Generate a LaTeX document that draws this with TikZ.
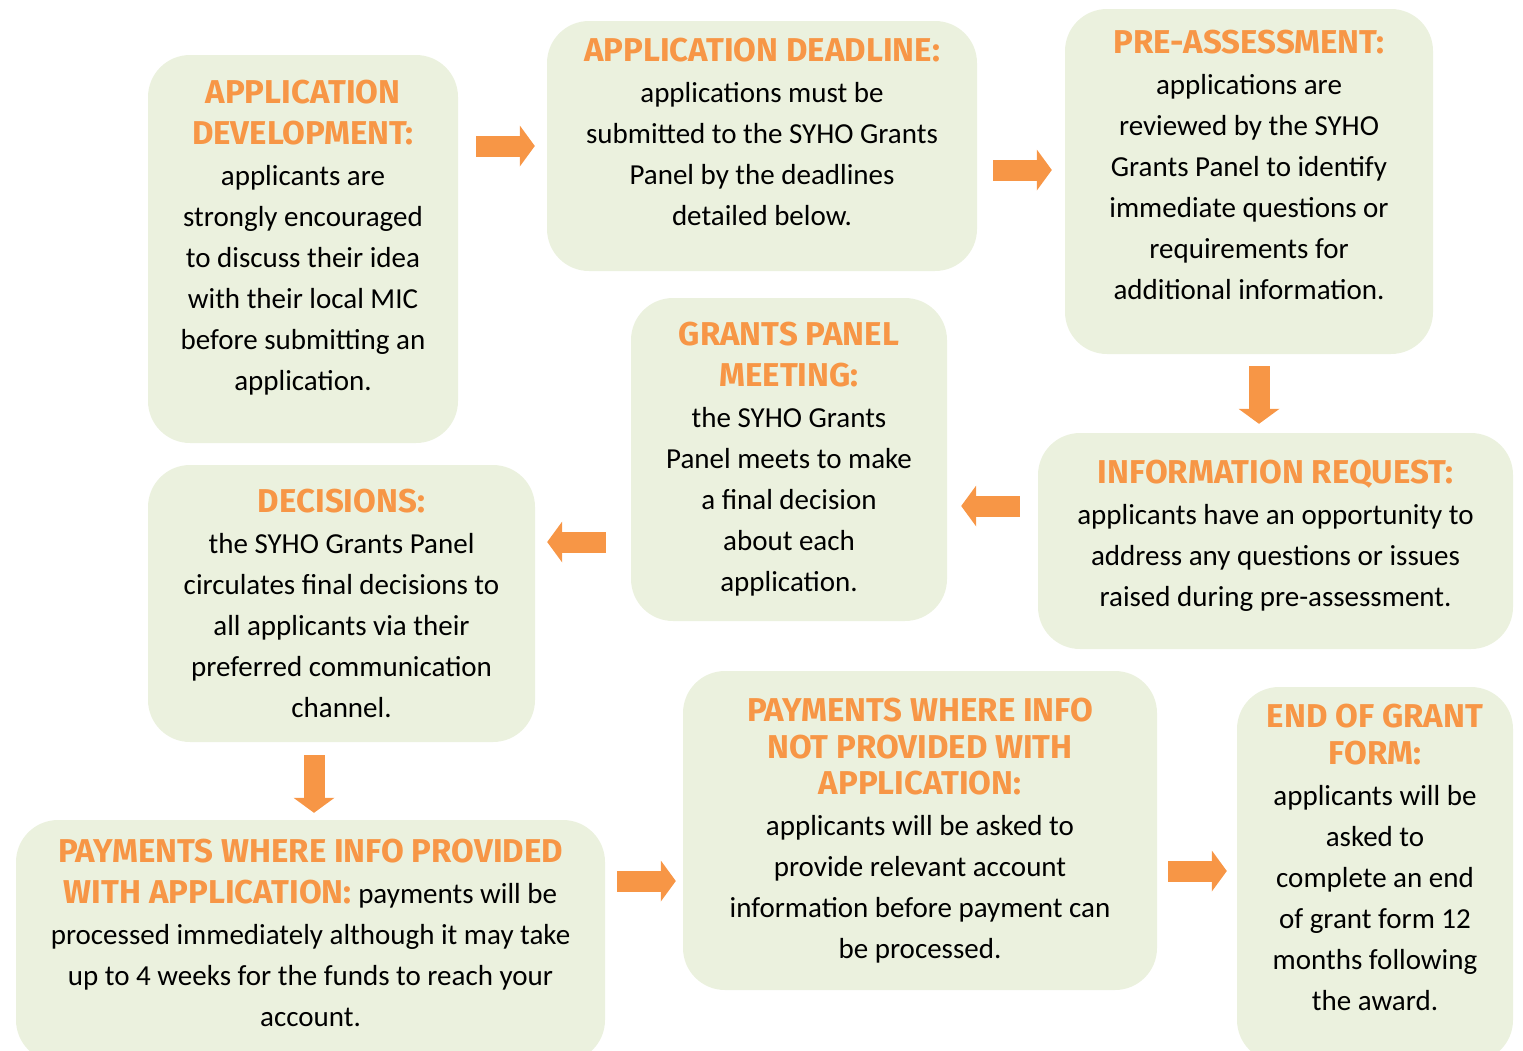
\documentclass[tikz,border=0pt]{standalone}
\usepackage{fontspec}
\setmainfont{Carlito}
\newfontfamily\headfont{Fira Sans}
\usetikzlibrary{arrows.meta,positioning}
\definecolor{stagefill}{HTML}{EBF1DE}
\definecolor{stageorange}{HTML}{F79646}
\newcommand{\stagehead}[1]{{\headfont\bfseries\fontsize{33}{41}\selectfont\color{stageorange}#1}}
\newcommand{\lift}[1]{\rule[-#1]{0pt}{#1}}

\begin{document}
\begin{tikzpicture}[x=1pt,y=-1pt,on grid,
    stage/.style={fill=stagefill,rounded corners=42pt,align=center,inner sep=0pt,
      font=\fontsize{29}{41}\selectfont},
    flow/.style={draw=stageorange,line width=21pt,
      -{Triangle[length=15pt,width=41pt,line width=0pt]}}]

      \path[use as bounding box] (0,0) rectangle (1523,1050);

      \node[stage,minimum width=310pt,minimum height=388pt] (app_dev) at (303,249)
        {\stagehead{APPLICATION}\\\stagehead{DEVELOPMENT:}\\applicants are\\strongly encouraged\\to discuss their idea\\with their local MIC\\before submitting an\\application.\lift{27pt}};
      \node[stage,minimum width=430pt,minimum height=250pt] (deadline) [above right=103pt and 459pt of app_dev]
        {\stagehead{APPLICATION DEADLINE:}\\applications must be\\submitted to the SYHO Grants\\Panel by the deadlines\\detailed below.\lift{28pt}};
      \node[stage,minimum width=368pt,minimum height=345pt] (pre_assess) [below right=35.5pt and 487pt of deadline]
        {\stagehead{PRE-ASSESSMENT:}\\applications are\\reviewed by the SYHO\\Grants Panel to identify\\immediate questions or\\requirements for\\additional information.\lift{33pt}};
      \node[stage,minimum width=475pt,minimum height=216pt] (info_req) [below right=359.5pt and 26.5pt of pre_assess]
        {\stagehead{INFORMATION REQUEST:}\\applicants have an opportunity to\\address any questions or issues\\raised during pre-assessment.\lift{16pt}};
      \node[stage,minimum width=316pt,minimum height=323pt] (panel_meet) [above left=81.5pt and 486.5pt of info_req]
        {\stagehead{GRANTS PANEL}\\\stagehead{MEETING:}\\the SYHO Grants\\Panel meets to make\\a final decision\\about each\\application.};
      \node[stage,minimum width=387pt,minimum height=277pt] (decisions) [below left=144pt and 447.5pt of panel_meet]
        {\stagehead{DECISIONS:}\\the SYHO Grants Panel\\circulates final decisions to\\all applicants via their\\preferred communication\\channel.};
      \node[stage,minimum width=589pt,minimum height=242pt] (pay_with) [below left=337.5pt and 31pt of decisions]
        {\stagehead{PAYMENTS WHERE INFO PROVIDED}\\\stagehead{WITH APPLICATION:} payments will be\\processed immediately although it may take\\up to 4 weeks for the funds to reach your\\account.\lift{16pt}};
      \node[stage,minimum width=474pt,minimum height=319pt] (pay_without) [above right=110.5pt and 609.5pt of pay_with]
        {\stagehead{PAYMENTS WHERE INFO}\\[-4pt]\stagehead{NOT PROVIDED WITH}\\[-5pt]\stagehead{APPLICATION:}\\applicants will be asked to\\provide relevant account\\information before payment can\\be processed.};
      \node[stage,minimum width=276pt,minimum height=375pt] (end_form) [below right=44pt and 455pt of pay_without]
        {\stagehead{END OF GRANT}\\[-4pt]\stagehead{FORM:}\\applicants will be\\asked to\\complete an end\\of grant form 12\\months following\\the award.\lift{34pt}};

      % block arrows between the stages
      \draw[flow,shorten <=18pt,shorten >=12pt] (app_dev.east |- deadline.west) -- (deadline.west);
      \draw[flow,shorten <=16pt,shorten >=13pt] ([yshift=-24pt]deadline.east) -- ([yshift=-24pt]deadline.east -| pre_assess.west);
      \draw[flow,shorten <=12pt,shorten >=9pt] ([xshift=10pt]pre_assess.south) -- ([xshift=10pt]pre_assess.south |- info_req.north);
      \draw[flow,shorten <=18pt,shorten >=14pt] ([yshift=35pt]info_req.west) -- ([yshift=35pt]info_req.west -| panel_meet.east);
      \draw[flow,shorten <=25pt,shorten >=12pt] ([yshift=61.5pt]panel_meet.west |- decisions.east) -- ([yshift=61.5pt]decisions.east);
      \draw[flow,shorten <=13pt,shorten >=7pt] ([xshift=-27.5pt]decisions.south) -- ([xshift=-27.5pt]decisions.south |- pay_with.north);
      \draw[flow,shorten <=12pt,shorten >=7pt] ([yshift=-50.5pt]pay_without.west -| pay_with.east) -- ([yshift=-50.5pt]pay_without.west);
      \draw[flow,shorten <=11pt,shorten >=10pt] ([yshift=3.5pt]end_form.west -| pay_without.east) -- ([yshift=3.5pt]end_form.west);
    \end{tikzpicture}
\end{document}
